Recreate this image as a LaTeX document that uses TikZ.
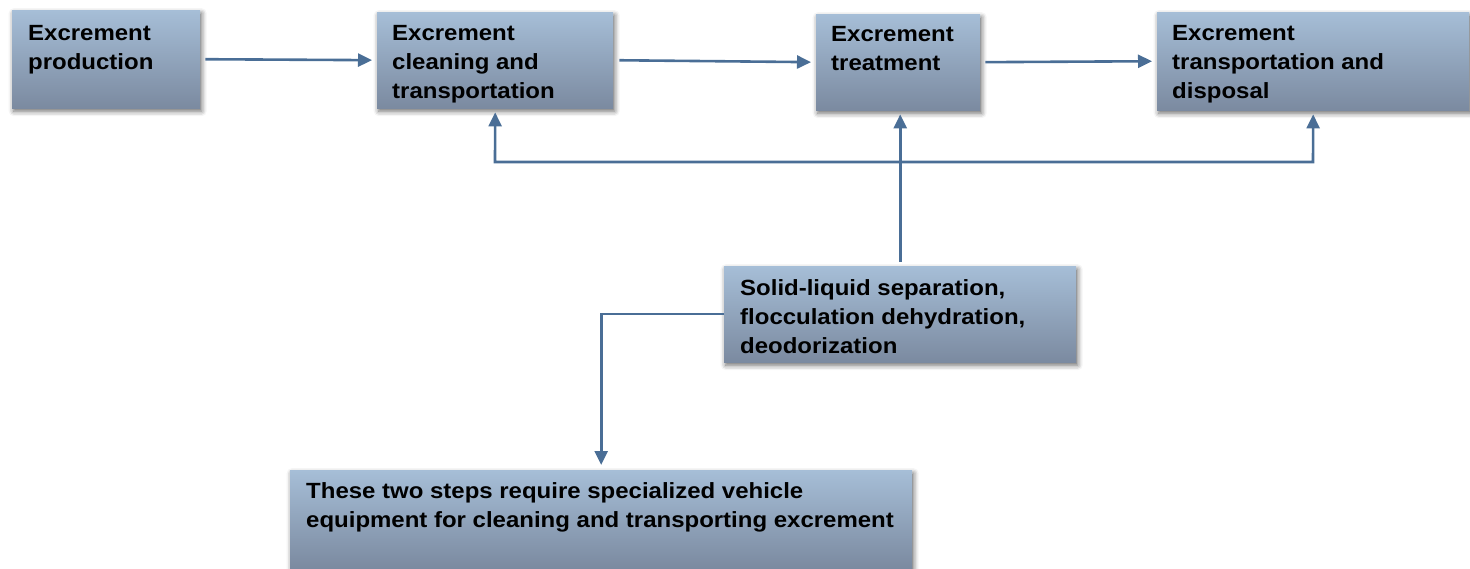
\documentclass[tikz,border=0pt]{standalone}
\usepackage{fontspec}
\setmainfont[FakeStretch=1.09]{Liberation Sans}
\usetikzlibrary{shadows.blur,arrows.meta}
\definecolor{boxtop}{RGB}{166,190,215}
\definecolor{boxbot}{RGB}{123,138,160}
\definecolor{arrcol}{RGB}{74,110,150}
\tikzset{
  box/.style={rectangle, draw=none, inner sep=0pt, anchor=north west,
    top color=boxtop, bottom color=boxbot,
    blur shadow={shadow xshift=1.5pt, shadow yshift=-3pt, shadow blur radius=5pt, shadow opacity=60}},
  txt/.style={anchor=north west, inner sep=0pt, align=left,
    font=\bfseries\fontsize{22}{29}\selectfont, text=black},
  conn/.style={draw=arrcol, line width=2.6pt, -{Triangle[length=14pt,width=13pt]}},
  connb/.style={draw=arrcol, line width=2.6pt, {Triangle[length=14pt,width=13pt]}-{Triangle[length=14pt,width=13pt]}}
}
\begin{document}
\begin{tikzpicture}[x=1pt,y=-1pt]
\useasboundingbox (0,0) rectangle (1470,569);
% boxes
\node[box, minimum width=188pt, minimum height=98pt] (A) at (12,10) {};
\node[box, minimum width=236pt, minimum height=96pt] (B) at (377,12) {};
\node[box, minimum width=164pt, minimum height=96pt] (C) at (816,14) {};
\node[box, minimum width=312pt, minimum height=98pt] (D) at (1157,12) {};
\node[box, minimum width=352pt, minimum height=96pt] (E) at (724,266) {};
\node[box, minimum width=622pt, minimum height=98pt] (F) at (290,470) {};
% texts
\node[txt] (tA) at ([xshift=16pt,yshift=-15pt]A.north west) {Excrement\\production};
\node[txt] (tB) at ([xshift=15pt,yshift=-13pt]B.north west) {Excrement\\cleaning and\\transportation};
\node[txt] (tC) at ([xshift=15pt,yshift=-12pt]C.north west) {Excrement\\treatment};
\node[txt] (tD) at ([xshift=15pt,yshift=-13pt]D.north west) {Excrement\\transportation and\\disposal};
\node[txt] (tE) at ([xshift=16pt,yshift=-13pt]E.north west) {Solid-liquid separation,\\flocculation dehydration,\\deodorization};
\node[txt] (tF) at ([xshift=16pt,yshift=-12pt]F.north west) {These two steps require specialized vehicle\\equipment for cleaning and transporting excrement};
% connectors
\draw[conn, shorten <=5pt, shorten >=5pt] (A.east) -- (B.west);
\draw[conn, shorten <=6pt, shorten >=5pt] (B.east) -- (C.west);
\draw[conn, shorten <=5pt, shorten >=5pt] (C.east) -- (D.west);
\coordinate (bl) at (495,162);
\coordinate (br) at (1313,162);
\draw[connb, shorten <=4pt, shorten >=4pt] (B.south) -- (bl) -- (br) -- (D.south);
\draw[conn, shorten <=4pt, shorten >=4pt] (E.north) -- (E.north |- C.south);
\draw[conn, shorten >=5pt] (E.west) -| (F.north);
\end{tikzpicture}
\end{document}
